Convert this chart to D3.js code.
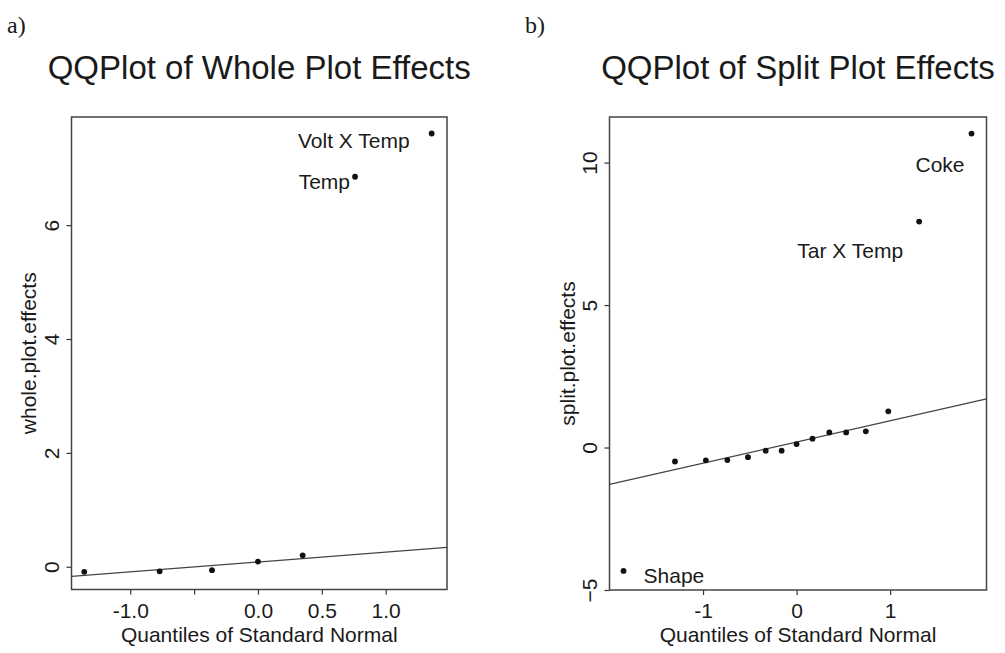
<!DOCTYPE html>
<html>
<head>
<meta charset="utf-8">
<script src="https://cdn.jsdelivr.net/npm/d3@7"></script>
<style>
  body { margin: 0; background: #fff; }
  svg text { font-family: "Liberation Sans", Arial, Helvetica, sans-serif; fill: #1a1a1a; }
</style>
</head>
<body>
<svg id="vis" width="1005" height="653"></svg>
<script>
// whole plot effects (n = 7)
let wholeQuantiles = [-1.36, -0.77, -0.36, 0.0, 0.35, 0.76, 1.36];
let wholeEffects = [-0.09, -0.08, -0.06, 0.09, 0.20, 6.85, 7.61];
let wholeLine = [0.083, 0.173]; // intercept, slope
let wholeXTicks = [-1.0, -0.5, 0.0, 0.5, 1.0];
let wholeXTickLabels = ["-1.0", "", "0.0", "0.5", "1.0"];
let wholeYTicks = [0, 2, 4, 6];
let wholeNames = ["Volt X Temp", "Temp"];

// split plot effects (n = 15)
let splitQuantiles = [-1.85, -1.30, -0.97, -0.74, -0.52, -0.33, -0.16, 0.0, 0.17, 0.35, 0.53, 0.74, 0.98, 1.31, 1.87];
let splitEffects = [-4.33, -0.49, -0.45, -0.44, -0.34, -0.11, -0.11, 0.12, 0.31, 0.53, 0.53, 0.57, 1.27, 7.93, 11.02];
let splitLine = [0.195, 0.745];
let splitXTicks = [-1, 0, 1];
let splitXTickLabels = ["-1", "0", "1"];
let splitYTicks = [-5, 0, 5, 10];
let splitNames = ["Coke", "Tar X Temp", "Shape"];

let svg = d3.select("#vis");

function drawPanel(p) {
  let x = d3.scaleLinear().domain(p.xDomain).range([p.left, p.right]);
  let y = d3.scaleLinear().domain(p.yDomain).range([p.bottom, p.top]);

  let plot = svg.append("g");

  // panel letter and title
  svg.append("text")
    .attr("x", p.letterX)
    .attr("y", 33)
    .style("font-family", "'Liberation Serif', 'DejaVu Serif', serif")
    .style("font-size", "24px")
    .text(p.letter);
  svg.append("text")
    .attr("x", (p.left + p.right) / 2)
    .attr("y", 79)
    .style("font-size", "33px")
    .style("text-anchor", "middle")
    .text(p.title);

  // clip for the reference line
  svg.append("clipPath").attr("id", p.id + "-clip")
    .append("rect")
    .attr("x", p.left).attr("y", p.top)
    .attr("width", p.right - p.left).attr("height", p.bottom - p.top);

  // axes
  let xAxis = d3.axisBottom(x)
    .tickValues(p.xTicks)
    .tickSize(5)
    .tickFormat(function(d, i) { return p.xTickLabels[i]; });
  let gx = plot.append("g")
    .attr("transform", "translate(0," + p.bottom + ")")
    .call(xAxis);
  gx.select(".domain").remove();
  gx.selectAll("line").attr("stroke", "#333").attr("stroke-width", 1.2);
  gx.selectAll("text")
    .attr("y", 28).attr("dy", 0)
    .style("font-size", "21px")
    .attr("fill", "#1a1a1a");

  let yAxis = d3.axisLeft(y)
    .tickValues(p.yTicks)
    .tickSize(5)
    .tickFormat(d3.format("d"));
  let gy = plot.append("g")
    .attr("transform", "translate(" + p.left + ",0)")
    .call(yAxis);
  gy.select(".domain").remove();
  gy.selectAll("line").attr("stroke", "#333").attr("stroke-width", 1.2);
  gy.selectAll("text")
    .attr("transform", "rotate(-90)")
    .attr("x", 0).attr("y", -13).attr("dy", 0)
    .style("text-anchor", "middle")
    .style("font-size", "21px")
    .attr("fill", "#1a1a1a");

  // box
  plot.append("rect")
    .attr("x", p.left).attr("y", p.top)
    .attr("width", p.right - p.left).attr("height", p.bottom - p.top)
    .attr("fill", "none")
    .attr("stroke", "#444")
    .attr("stroke-width", 1.5);

  // qq reference line
  let ends = x.domain().map(function(v) { return [v, p.line[0] + p.line[1] * v]; });
  plot.append("path")
    .attr("d", d3.line().x(function(d) { return x(d[0]); }).y(function(d) { return y(d[1]); })(ends))
    .attr("clip-path", "url(#" + p.id + "-clip)")
    .attr("stroke", "#444")
    .attr("stroke-width", 1.3)
    .attr("fill", "none");

  // points
  let pts = p.qs.map(function(q, i) { return {q: q, e: p.es[i]}; });
  plot.selectAll(".pt")
    .data(pts)
    .enter().append("circle")
    .attr("class", "pt")
    .attr("cx", function(d) { return x(d.q); })
    .attr("cy", function(d) { return y(d.e); })
    .attr("r", 2.9)
    .attr("fill", "#111");

  // labels for the outlying effects
  p.labels.forEach(function(l) {
    let d = pts[l.idx];
    plot.append("text")
      .attr("x", x(d.q) + l.dx)
      .attr("y", y(d.e) + l.dy)
      .style("font-size", "21px")
      .style("text-anchor", l.anchor)
      .text(l.text);
  });

  // axis titles
  plot.append("text")
    .attr("x", (p.left + p.right) / 2)
    .attr("y", 642)
    .style("font-size", "21px")
    .style("text-anchor", "middle")
    .text("Quantiles of Standard Normal");
  plot.append("text")
    .attr("transform", "translate(" + p.yTitleX + "," + ((p.top + p.bottom) / 2) + ") rotate(-90)")
    .style("font-size", "21px")
    .style("text-anchor", "middle")
    .text(p.yTitle);
}

drawPanel({
  id: "whole", letter: "a)", letterX: 7,
  title: "QQPlot of Whole Plot Effects",
  left: 71.5, right: 447, top: 117, bottom: 589.5,
  xDomain: [-1.46, 1.48], yDomain: [-0.4, 7.9],
  xTicks: wholeXTicks, xTickLabels: wholeXTickLabels, yTicks: wholeYTicks,
  qs: wholeQuantiles, es: wholeEffects, line: wholeLine,
  yTitle: "whole.plot.effects", yTitleX: 36,
  labels: [
    {idx: 6, text: wholeNames[0], anchor: "end", dx: -22, dy: 14},
    {idx: 5, text: wholeNames[1], anchor: "end", dx: -5, dy: 12}
  ]
});

drawPanel({
  id: "split", letter: "b)", letterX: 525,
  title: "QQPlot of Split Plot Effects",
  left: 609.5, right: 986.5, top: 117, bottom: 590,
  xDomain: [-2.0, 2.03], yDomain: [-5.0, 11.6],
  xTicks: splitXTicks, xTickLabels: splitXTickLabels, yTicks: splitYTicks,
  qs: splitQuantiles, es: splitEffects, line: splitLine,
  yTitle: "split.plot.effects", yTitleX: 575,
  labels: [
    {idx: 14, text: splitNames[0], anchor: "end", dx: -7, dy: 38},
    {idx: 13, text: splitNames[1], anchor: "end", dx: -16, dy: 36},
    {idx: 0, text: splitNames[2], anchor: "start", dx: 20, dy: 12}
  ]
});
</script>
</body>
</html>
